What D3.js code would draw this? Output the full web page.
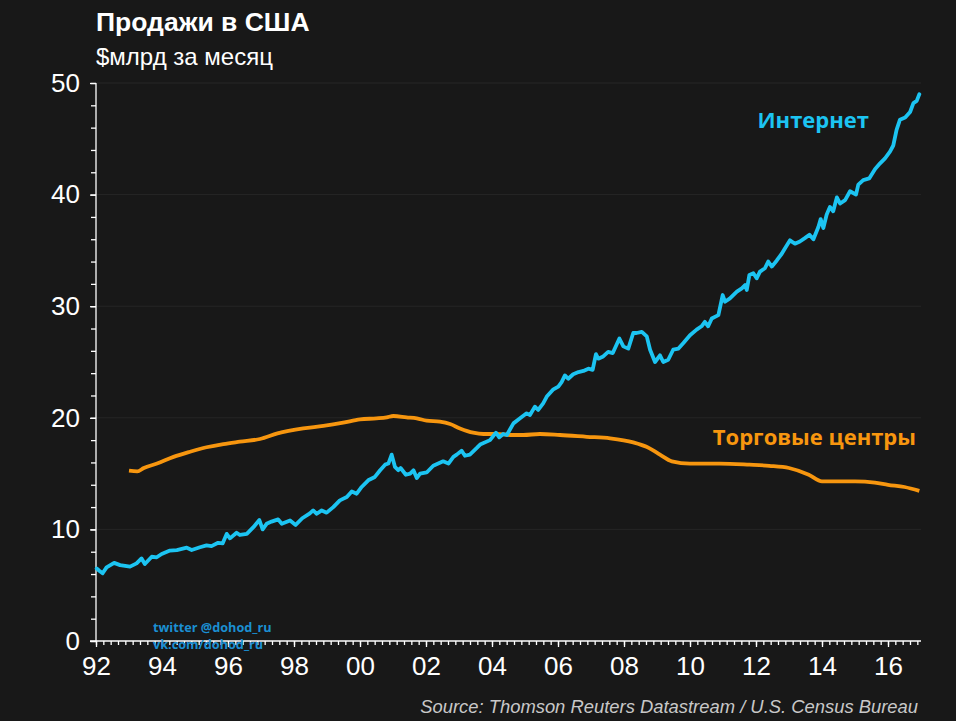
<!DOCTYPE html>
<html><head><meta charset="utf-8">
<script src="https://cdn.jsdelivr.net/npm/d3@7"></script>
<style>
html,body{margin:0;padding:0;background:#181818;}
svg{display:block;}
</style></head>
<body>
<svg id="chart" width="956" height="721"></svg>
<script>
// ---- data ----
const internetYears = [1992.02,1992.1,1992.2,1992.32,1992.55,1992.73,1993.03,1993.23,1993.38,1993.48,1993.69,1993.84,1993.99,1994.24,1994.45,1994.75,1994.9,1995.15,1995.35,1995.5,1995.7,1995.84,1995.96,1996.06,1996.26,1996.36,1996.57,1996.77,1996.95,1997.05,1997.17,1997.32,1997.52,1997.63,1997.88,1998.05,1998.25,1998.48,1998.58,1998.69,1998.84,1998.99,1999.19,1999.39,1999.6,1999.75,1999.9,2000.05,2000.25,2000.45,2000.61,2000.76,2000.86,2000.96,2001.06,2001.16,2001.23,2001.39,2001.52,2001.62,2001.72,2001.82,2002.02,2002.22,2002.37,2002.52,2002.68,2002.83,2002.93,2003.08,2003.18,2003.33,2003.54,2003.64,2003.94,2004.12,2004.22,2004.34,2004.45,2004.65,2004.85,2005.05,2005.15,2005.3,2005.4,2005.55,2005.66,2005.86,2006.01,2006.11,2006.21,2006.31,2006.46,2006.62,2006.77,2006.92,2007.05,2007.15,2007.22,2007.37,2007.52,2007.66,2007.86,2007.98,2008.13,2008.28,2008.38,2008.54,2008.69,2008.79,2008.94,2009.09,2009.19,2009.34,2009.49,2009.65,2009.8,2010.0,2010.2,2010.35,2010.45,2010.55,2010.66,2010.86,2010.99,2011.06,2011.21,2011.42,2011.57,2011.67,2011.72,2011.8,2011.92,2012.02,2012.12,2012.27,2012.37,2012.48,2012.63,2012.78,2012.88,2013.03,2013.18,2013.33,2013.48,2013.62,2013.74,2013.89,2013.96,2014.04,2014.14,2014.24,2014.34,2014.45,2014.55,2014.7,2014.85,2015.03,2015.1,2015.25,2015.43,2015.61,2015.76,2015.91,2016.06,2016.16,2016.26,2016.36,2016.52,2016.67,2016.77,2016.87,2016.95];
const internetValues = [6.5,6.3,6.07,6.6,7.0,6.8,6.66,6.96,7.4,6.9,7.55,7.5,7.8,8.1,8.15,8.36,8.15,8.4,8.57,8.5,8.8,8.75,9.6,9.2,9.7,9.5,9.6,10.2,10.84,10.0,10.5,10.7,10.9,10.5,10.8,10.4,11.0,11.44,11.7,11.4,11.7,11.5,12.0,12.6,12.9,13.4,13.2,13.8,14.4,14.7,15.3,15.8,15.9,16.7,15.6,15.3,15.5,14.9,15.0,15.3,14.6,15.0,15.1,15.7,15.9,16.1,15.9,16.5,16.7,17.05,16.6,16.7,17.3,17.6,18.0,18.67,18.25,18.55,18.46,19.5,19.95,20.4,20.25,21.0,20.7,21.3,21.9,22.55,22.8,23.2,23.8,23.5,23.9,24.1,24.2,24.4,24.3,25.7,25.3,25.5,25.9,25.8,27.1,26.4,26.2,27.6,27.6,27.7,27.3,26.1,25.0,25.6,25.0,25.2,26.1,26.2,26.7,27.4,27.9,28.2,28.6,28.2,28.9,29.2,31.0,30.4,30.7,31.3,31.6,31.9,31.45,32.8,32.95,32.5,33.1,33.4,34.0,33.55,34.1,34.7,35.2,35.9,35.6,35.8,36.1,36.4,36.0,37.1,37.8,37.0,38.2,38.9,38.5,39.75,39.2,39.5,40.3,40.0,40.9,41.3,41.45,42.3,42.8,43.25,43.85,44.4,45.8,46.7,46.9,47.4,48.2,48.4,49.0];

const mallYears = [1993.0,1993.25,1993.45,1993.85,1994.35,1994.85,1995.35,1995.86,1996.36,1996.97,1997.5,1998.28,1998.89,1999.49,2000.0,2000.5,2000.81,2001.01,2001.41,2001.72,2002.02,2002.42,2002.73,2003.03,2003.43,2003.74,2004.14,2004.55,2004.95,2005.45,2006.06,2006.87,2007.58,2008.28,2008.68,2008.87,2009.09,2009.45,2010.0,2010.9,2011.8,2012.4,2013.0,2013.6,2014.0,2015.0,2015.6,2016.0,2016.5,2016.95];
const mallValues = [15.26,15.2,15.5,15.9,16.5,16.96,17.36,17.65,17.86,18.1,18.6,19.05,19.27,19.56,19.86,19.95,20.04,20.16,20.04,19.95,19.74,19.65,19.44,19.05,18.67,18.55,18.55,18.46,18.46,18.55,18.46,18.3,18.16,17.8,17.4,17.1,16.7,16.1,15.9,15.9,15.8,15.7,15.5,14.9,14.3,14.3,14.2,14.0,13.8,13.45];

const yTicks = [0,10,20,30,40,50];
const xTickYears = [1992,1994,1996,1998,2000,2002,2004,2006,2008,2010,2012,2014,2016];
const xTickLabels = ["92","94","96","98","00","02","04","06","08","10","12","14","16"];

const titleText = "Продажи в США";
const subtitleText = "$млрд за месяц";
const internetLabel = "Интернет";
const mallLabel = "Торговые центры";
const sourceText = "Source: Thomson Reuters Datastream / U.S. Census Bureau";

// ---- layout ----
const svg = d3.select("#chart");
const pLeft = 96, pRight = 921, pTop = 83, pBottom = 641;
const x = d3.scaleLinear().domain([1992, 2017]).range([pLeft, pRight]);
const y = d3.scaleLinear().domain([0, 50]).range([pBottom, pTop]);

svg.append("rect").attr("width",956).attr("height",721).attr("fill","#181818");

// gridlines
svg.append("g").selectAll("line").data(yTicks.filter(d=>d>0)).join("line")
  .attr("x1", pLeft).attr("x2", pRight)
  .attr("y1", d=>y(d)).attr("y2", d=>y(d))
  .attr("stroke","#262626").attr("stroke-width",1);

// y axis
const yMinor = d3.range(0, 51, 2);
const yAxis = svg.append("g").attr("transform",`translate(${pLeft},0)`)
  .call(d3.axisLeft(y).tickValues(yMinor).tickSize(5).tickFormat(""));
yAxis.selectAll("path,line").attr("stroke","#ffffff").attr("stroke-width",1.3);
yAxis.select(".domain").attr("d",`M0,${pTop}V${pBottom}`);
const yMaj = svg.append("g").attr("transform",`translate(${pLeft},0)`)
  .call(d3.axisLeft(y).tickValues(yTicks).tickSize(6).tickPadding(10));
yMaj.select(".domain").remove();
yMaj.selectAll("line").attr("stroke","#ffffff").attr("stroke-width",1.3);
yMaj.selectAll("text").attr("fill","#ffffff").attr("font-family","Liberation Sans, Arial, sans-serif")
  .attr("font-size",26);

// x axis
const xMinor = d3.range(0, 113).map(i => 1992 + i*2/9).filter(v => v <= 2017.01);
const xAxis = svg.append("g").attr("transform",`translate(0,${pBottom})`)
  .call(d3.axisBottom(x).tickValues(xMinor).tickSize(4).tickFormat(""));
xAxis.selectAll("path,line").attr("stroke","#ffffff").attr("stroke-width",1.3);
xAxis.select(".domain").attr("d",`M${pLeft-6},0H${pRight}`);
const xMaj = svg.append("g").attr("transform",`translate(0,${pBottom})`)
  .call(d3.axisBottom(x).tickValues(xTickYears).tickSize(6).tickPadding(10)
    .tickFormat((d,i)=>xTickLabels[i]));
xMaj.select(".domain").remove();
xMaj.selectAll("line").attr("stroke","#ffffff").attr("stroke-width",1.3);
xMaj.selectAll("text").attr("fill","#ffffff").attr("font-family","Liberation Sans, Arial, sans-serif")
  .attr("font-size",26);

// lines
const internetData = internetYears.map((t,i)=>({t, v: internetValues[i]}));
const mallData = mallYears.map((t,i)=>({t, v: mallValues[i]}));

svg.append("path").datum(mallData)
  .attr("d", d3.line().x(d=>x(d.t)).y(d=>y(d.v)).curve(d3.curveMonotoneX))
  .attr("fill","none").attr("stroke","#f7960f").attr("stroke-width",3.8)
  .attr("stroke-linejoin","round");
svg.append("path").datum(internetData)
  .attr("d", d3.line().x(d=>x(d.t)).y(d=>y(d.v)).curve(d3.curveLinear))
  .attr("fill","none").attr("stroke","#1cc4f2").attr("stroke-width",3.8)
  .attr("stroke-linejoin","round").attr("stroke-linecap","round");

// series labels
svg.append("text").attr("x", 869).attr("y", 128).attr("text-anchor","end")
  .attr("font-family","Open Sans, sans-serif").attr("font-weight","bold").attr("font-size",22)
  .attr("fill","#1cc4f2").text(internetLabel);
svg.append("text").attr("x", 916).attr("y", 445).attr("text-anchor","end")
  .attr("font-family","Open Sans, sans-serif").attr("font-weight","bold").attr("font-size",22)
  .attr("fill","#f7960f").text(mallLabel);

// titles
svg.append("text").attr("x", 96).attr("y", 31)
  .attr("font-family","Liberation Sans, Arial, sans-serif").attr("font-weight","bold").attr("font-size",26.5)
  .attr("fill","#ffffff").text(titleText);
svg.append("text").attr("x", 96).attr("y", 65)
  .attr("font-family","Liberation Sans, Arial, sans-serif").attr("font-size",24)
  .attr("fill","#ffffff").text(subtitleText);

// watermark
svg.append("text").attr("x", 153).attr("y", 632)
  .attr("font-family","Open Sans, sans-serif").attr("font-weight","bold").attr("font-size",12.7)
  .attr("fill","#1b8fd2").text("twitter @dohod_ru");
svg.append("text").attr("x", 153).attr("y", 648.5)
  .attr("font-family","Open Sans, sans-serif").attr("font-weight","bold").attr("font-size",12.7)
  .attr("fill","#1b8fd2").text("vk.com/dohod_ru");

// source
svg.append("text").attr("x", 918).attr("y", 713).attr("text-anchor","end")
  .attr("font-family","Liberation Sans, Arial, sans-serif").attr("font-style","italic").attr("font-size",18.4)
  .attr("fill","#c8c8c8").text(sourceText);
</script>
</body></html>
